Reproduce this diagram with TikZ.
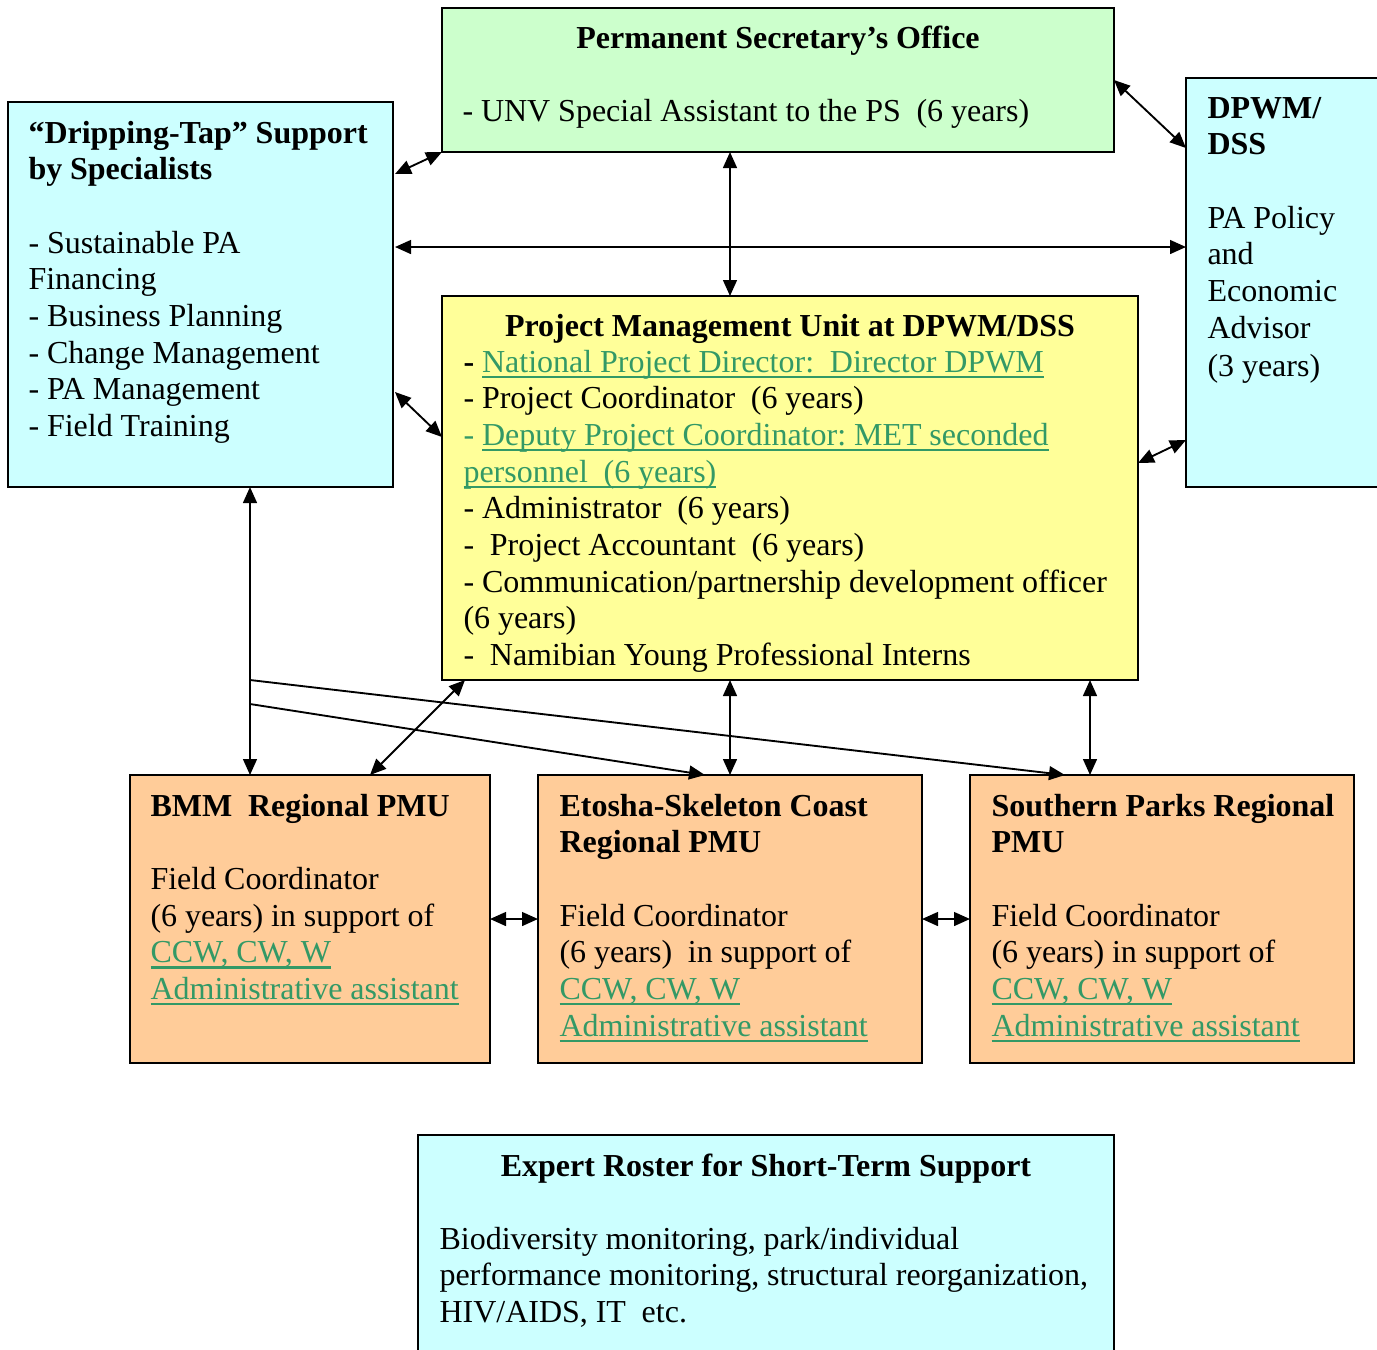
\documentclass[tikz,border=0pt]{standalone}
\usepackage{fontspec}
\setmainfont{Liberation Serif}
\usetikzlibrary{arrows.meta,calc}
\definecolor{psgreen}{HTML}{CCFFCC}
\definecolor{lcyan}{HTML}{CCFFFF}
\definecolor{lyellow}{HTML}{FFFF99}
\definecolor{lorange}{HTML}{FFCC99}
\definecolor{txgreen}{HTML}{339966}
\newsavebox{\grulbox}
\newcommand{\grul}[1]{\leavevmode{\color{txgreen}\sbox{\grulbox}{#1}\rlap{\rule[-2.2pt]{\wd\grulbox}{0.8pt}}\usebox{\grulbox}}}
\frenchspacing
\begin{document}
\begin{tikzpicture}[x=0.375pt,y=-0.375pt,
  every node/.style={font=\fontsize{12}{13.75}\selectfont\frenchspacing},
  box/.style 2 args={draw=black, line width=0.75pt, inner sep=0pt, outer sep=0pt,
    anchor=north west, minimum width=#1*0.375pt, minimum height=#2*0.375pt},
  txt/.style={anchor=base west, inner sep=0pt, text width=#1*0.375pt, align=left,
    execute at begin node={\spaceskip=2.95pt\relax\xspaceskip=2.95pt\relax}},
  ttl/.style={anchor=base, inner sep=0pt, font=\fontsize{12}{13.75}\selectfont\bfseries},
  con/.style={line width=0.7pt, {Triangle[length=6pt,width=5.2pt]}-{Triangle[length=6pt,width=5.2pt]}},
  one/.style={line width=0.7pt, -{Triangle[length=6pt,width=5.2pt]}},
  lin/.style={line width=0.7pt}
]
\useasboundingbox (0,0) rectangle (1377,1349);

% boxes
\node[box={385}{385}, fill=lcyan] (left) at (8,102) {};
\node[box={672}{144}, fill=psgreen] (ps) at (442,8) {};
\node[box={210}{409}, fill=lcyan] (dp) at (1186,78) {};
\node[box={696}{384}, fill=lyellow] (pmu) at (442,296) {};
\node[box={360}{288}, fill=lorange] (bmm) at (130,775) {};
\node[box={384}{288}, fill=lorange] (eto) at (538,775) {};
\node[box={384}{288}, fill=lorange] (sou) at (970,775) {};
\node[box={696}{240}, fill=lcyan] (exp) at (418,1135) {};

% texts
\node[txt=360] (lefttx) at (28,143) {\textbf{“Dripping-Tap” Support}\\
  \textbf{by Specialists}\\ \mbox{}\\
  - Sustainable PA\\ Financing\\ - Business Planning\\ - Change Management\\
  - PA Management\\ - Field Training};

\node[ttl] (pstitle) at (778,48) {Permanent Secretary’s Office};
\node[txt=640] (pstx) at (462,121) {- UNV Special Assistant to the PS~ (6 years)};

\node[txt=180] (dptx) at (1207,118) {\textbf{DPWM/}\\ \textbf{DSS}\\ \mbox{}\\
  PA Policy\\ and\\ Economic\\ Advisor\\[0.5pt] (3 years)};

\node[ttl] (pmutitle) at (790,336) {Project Management Unit at DPWM/DSS};
\node[txt=670] (pmutx) at (463,372) {\textbf{-} \grul{National Project Director:~ Director DPWM}\\
  - Project Coordinator~ (6 years)\\
  {\color{txgreen}- }\grul{Deputy Project Coordinator: MET seconded}\\
  \grul{personnel~ (6 years)}\\
  - Administrator~ (6 years)\\
  -~ Project Accountant~ (6 years)\\
  - Communication/partnership development officer\\
  (6 years)\\
  -~ Namibian Young Professional Interns};

\node[txt=330] (bmmtx) at (150,816) {\textbf{BMM~ Regional PMU}\\ \mbox{}\\
  Field Coordinator\\ (6 years) in support of\\
  \grul{CCW, CW, W}\\ \grul{Administrative assistant}};

\node[txt=360] (etotx) at (559,816) {\textbf{Etosha-Skeleton Coast}\\
  \textbf{Regional PMU}\\ \mbox{}\\
  Field Coordinator\\ (6 years)~ in support of\\
  \grul{CCW, CW, W}\\ \grul{Administrative assistant}};

\node[txt=360] (soutx) at (991,816) {\textbf{Southern Parks Regional}\\
  \textbf{PMU}\\ \mbox{}\\
  Field Coordinator\\ (6 years) in support of\\
  \grul{CCW, CW, W}\\ \grul{Administrative assistant}};

\node[ttl] (exptitle) at (766,1176) {Expert Roster for Short-Term Support};
\node[txt=670] (exptx) at (439,1249) {Biodiversity monitoring, park/individual\\
  performance monitoring, structural reorganization,\\
  HIV/AIDS, IT~ etc.};

% connectors
\draw[con] ($(left.north east)+(2,72)$) -- (ps.south west);
\draw[con] ($(left.north east)+(2,145)$) -- ($(dp.north west)+(0,169)$);
\draw[con] ($(ps.south west)+(288,0)$) -- ($(pmu.north west)+(288,0)$);
\draw[con] ($(ps.north east)+(0,72)$) -- ($(dp.north west)+(0,70)$);
\draw[con] ($(left.south east)+(2,-95)$) -- ($(pmu.north west)+(0,141)$);
\draw[con] ($(pmu.north east)+(0,167)$) -- ($(dp.north west)+(0,362)$);
\draw[con] ($(left.south west)+(242,0)$) -- ($(bmm.north west)+(120,0)$);
\coordinate (j1) at ($(left.south west)+(242,193)$);
\coordinate (j2) at ($(left.south west)+(242,217)$);
\draw[one] (j1) -- ($(sou.north west)+(95,0)$);
\draw[one] (j2) -- ($(eto.north west)+(167,0)$);
\draw[con] ($(pmu.south west)+(23,0)$) -- ($(bmm.north west)+(240,0)$);
\draw[con] ($(pmu.south west)+(288,0)$) -- ($(eto.north west)+(192,0)$);
\draw[con] ($(pmu.south west)+(648,0)$) -- ($(sou.north west)+(120,0)$);
\draw[con] ($(bmm.north east)+(0,144)$) -- ($(eto.north west)+(0,144)$);
\draw[con] ($(eto.north east)+(0,144)$) -- ($(sou.north west)+(0,144)$);
\end{tikzpicture}
\end{document}
